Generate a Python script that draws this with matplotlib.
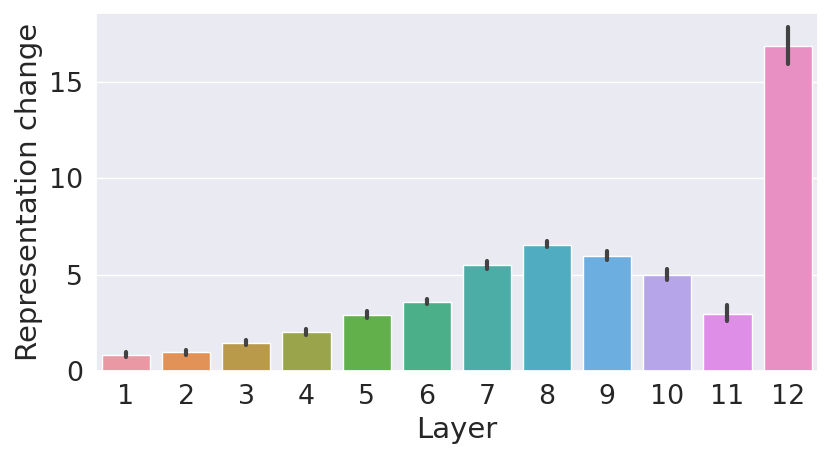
import matplotlib
matplotlib.use('Agg')
import matplotlib.pyplot as plt
import seaborn as sns
import numpy as np

layers = ['1', '2', '3', '4', '5', '6', '7', '8', '9', '10', '11', '12']
change = [0.81, 0.97, 1.44, 2.00, 2.91, 3.58, 5.47, 6.54, 5.95, 4.97, 2.96, 16.83]
err_lo = [0.73, 0.85, 1.33, 1.89, 2.75, 3.48, 5.29, 6.40, 5.74, 4.70, 2.58, 15.89]
err_hi = [1.00, 1.11, 1.59, 2.16, 3.10, 3.73, 5.69, 6.74, 6.21, 5.31, 3.41, 17.81]

# husl-ish colours as they come out in the picture
colors = ['#EA98A4', '#E29256', '#B99A4B', '#9AA44A', '#61B04B', '#4BAF8A',
          '#4CACA6', '#50ACC0', '#6DAEE0', '#B6A6E9', '#DF8EE8', '#E890C4']

sns.set_theme(style='darkgrid', font_scale=1.75)
fig = plt.figure(figsize=(8.31, 4.58), dpi=100)
ax = fig.add_axes([0.1155, 0.19, 0.8685, 0.7815])
sns.barplot(x=layers, y=change, hue=layers, palette=colors, saturation=1,
            legend=False, errorbar=None, ax=ax)
for i in range(len(layers)):
    ax.plot([i, i], [err_lo[i], err_hi[i]], color='.26', lw=3,
            solid_capstyle='round')
ax.set_ylim(0, 18.55)
ax.set_xlim(-0.5, 11.5)
ax.set_xlabel('Layer')
ax.set_ylabel('Representation change')
fig.savefig('out.png', dpi=100)
